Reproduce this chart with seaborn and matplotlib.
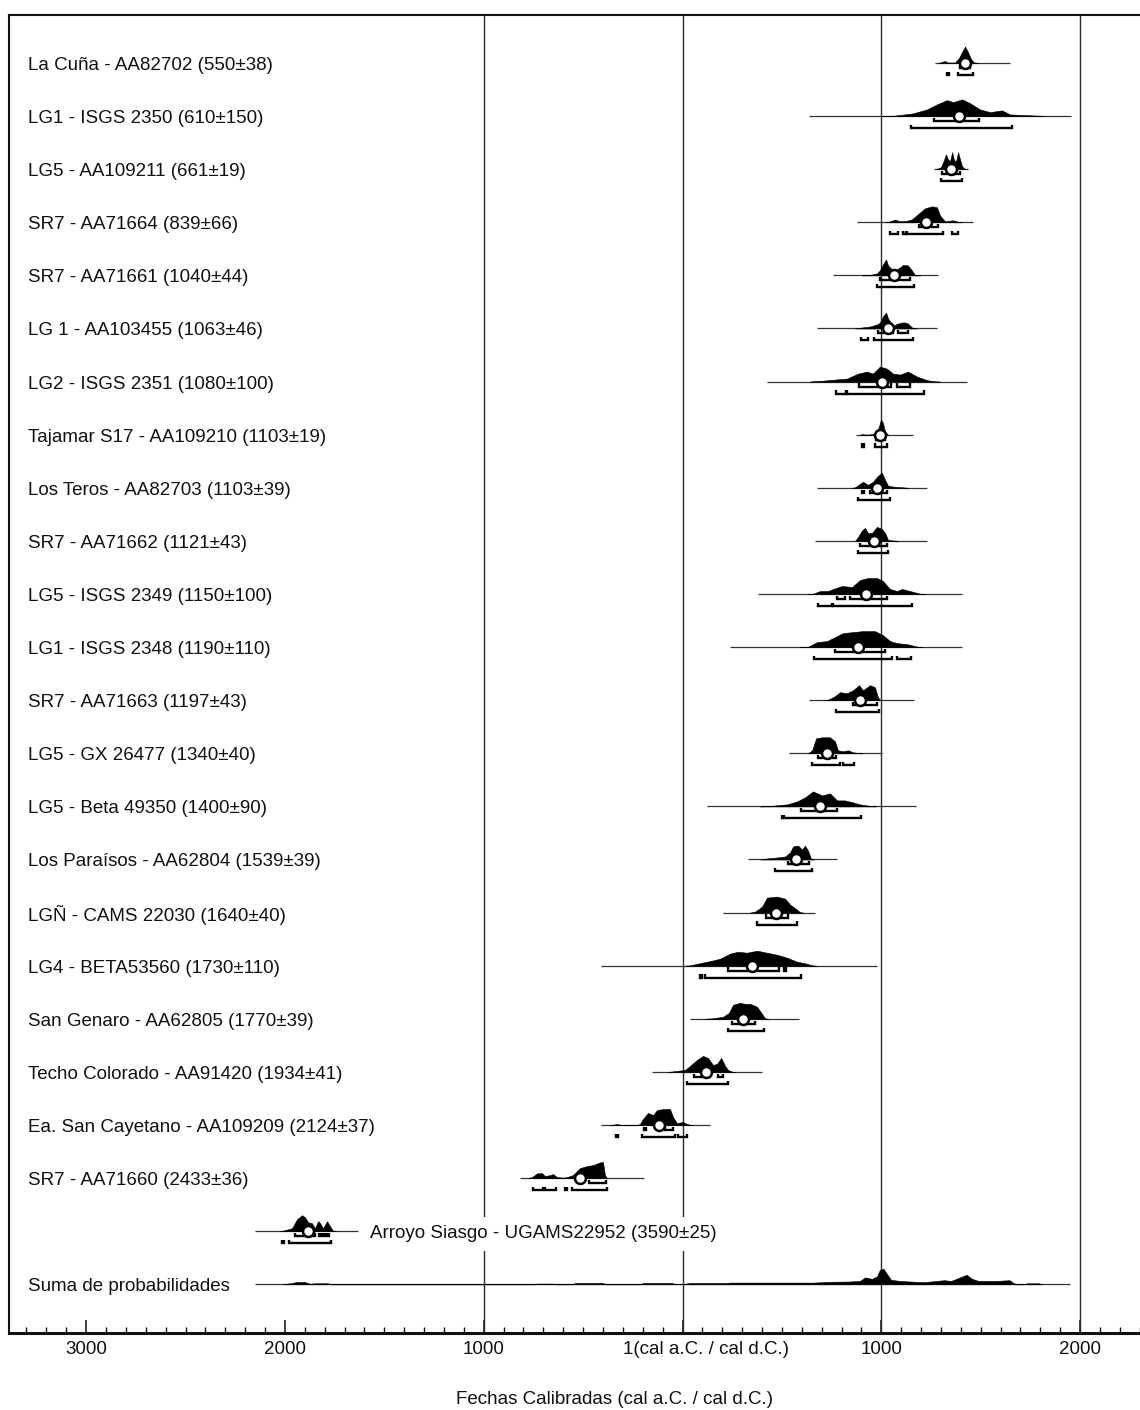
import numpy as np
import pandas as pd
import matplotlib
matplotlib.use("Agg")
import matplotlib.pyplot as plt
import matplotlib.transforms as mtransforms
import seaborn as sns

# ---------------- data (calendar years, negative = cal a.C.) ----------------
labels = [
    "La Cuña - AA82702 (550±38)",
    "LG1 - ISGS 2350 (610±150)",
    "LG5 - AA109211 (661±19)",
    "SR7 - AA71664 (839±66)",
    "SR7 - AA71661 (1040±44)",
    "LG 1 - AA103455 (1063±46)",
    "LG2 - ISGS 2351 (1080±100)",
    "Tajamar S17 - AA109210 (1103±19)",
    "Los Teros - AA82703 (1103±39)",
    "SR7 - AA71662 (1121±43)",
    "LG5 - ISGS 2349 (1150±100)",
    "LG1 - ISGS 2348 (1190±110)",
    "SR7 - AA71663 (1197±43)",
    "LG5 - GX 26477 (1340±40)",
    "LG5 - Beta 49350 (1400±90)",
    "Los Paraísos - AA62804 (1539±39)",
    "LGÑ - CAMS 22030 (1640±40)",
    "LG4 - BETA53560 (1730±110)",
    "San Genaro - AA62805 (1770±39)",
    "Techo Colorado - AA91420 (1934±41)",
    "Ea. San Cayetano - AA109209 (2124±37)",
    "SR7 - AA71660 (2433±36)",
    "Arroyo Siasgo - UGAMS22952 (3590±25)",
    "Suma de probabilidades",
]

line_from = [1270, 636, 1265, 877, 756, 675, 425, 873, 675, 665, 379, 239, 636,
             536, 123, 329, 204, -410, 38, -153, -410, -817, -2150, -2150]
line_to = [1647, 1954, 1436, 1461, 1285, 1280, 1431, 1159, 1230, 1230, 1406, 1406,
           1164, 1003, 1174, 777, 666, 978, 586, 400, 138, -194, -1632, 1949]

means = [1421, 1391, 1351, 1225, 1064, 1033, 1003, 993, 978, 963, 923, 883, 893,
         727, 692, 571, 470, 350, 304, 118, -118, -516, -1884]

dist_years = [
    [1285, 1305, 1320, 1335, 1371, 1391, 1406, 1421, 1436, 1451, 1466, 1486],
    [993, 1069, 1159, 1230, 1280, 1330, 1361, 1406, 1446, 1496, 1547, 1607, 1647, 1763, 1823],
    [1275, 1300, 1315, 1325, 1335, 1346, 1356, 1366, 1376, 1386, 1396, 1406, 1421],
    [1019, 1044, 1069, 1094, 1129, 1154, 1184, 1220, 1255, 1280, 1295, 1320, 1361, 1386, 1406],
    [903, 943, 978, 993, 1008, 1024, 1034, 1054, 1069, 1094, 1109, 1134, 1154, 1169, 1195],
    [868, 903, 943, 978, 993, 1008, 1024, 1034, 1059, 1084, 1104, 1119, 1134, 1154, 1180],
    [641, 682, 767, 827, 883, 928, 958, 993, 1028, 1059, 1094, 1134, 1180, 1230, 1260, 1295],
    [893, 908, 923, 958, 978, 988, 998, 1008, 1019, 1034],
    [853, 868, 893, 908, 933, 958, 983, 1003, 1019, 1034, 1069, 1109, 1134],
    [868, 883, 903, 918, 933, 953, 978, 1003, 1019, 1034, 1059, 1084],
    [631, 657, 692, 732, 767, 802, 853, 893, 933, 978, 1008, 1044, 1079, 1104, 1144, 1195, 1220],
    [591, 631, 677, 727, 767, 807, 858, 908, 968, 1008, 1044, 1079, 1129, 1180, 1205],
    [707, 732, 767, 792, 827, 858, 888, 908, 943, 968, 983, 993, 1003],
    [631, 652, 672, 702, 742, 767, 782, 807, 833, 858, 883, 903],
    [390, 430, 526, 576, 616, 656, 702, 742, 777, 817, 858, 893, 943, 973],
    [390, 425, 475, 516, 541, 556, 581, 601, 616, 631, 646, 662],
    [340, 365, 400, 425, 475, 516, 541, 576, 591, 606],
    [13, 38, 98, 148, 189, 239, 279, 324, 375, 425, 475, 526, 576, 626, 652, 672],
    [113, 148, 204, 234, 254, 289, 314, 340, 375, 400, 415, 430],
    [-73, -48, 13, 38, 73, 103, 128, 153, 174, 194, 214, 229, 249, 264],
    [-365, -350, -329, -314, -299, -229, -214, -199, -174, -148, -128, -98, -63, -48, -28, 3, 23, 38, 53],
    [-777, -757, -732, -707, -692, -667, -651, -631, -601, -581, -551, -516, -480, -450, -415, -400, -390, -380],
    [-2025, -2000, -1964, -1939, -1914, -1899, -1884, -1864, -1849, -1833, -1823, -1808, -1788, -1773, -1758, -1743],
    [-2009, -1974, -1939, -1899, -1874, -1849, -1783, -1763, -742, -732, -651, -636, -551, -541, -400, -385,
     -214, -199, -53, -33, 3, 38, 209, 244, 657, 742, 842, 893, 918, 953, 978, 993, 1011, 1031, 1049, 1092,
     1144, 1213, 1315, 1351, 1396, 1429, 1456, 1489, 1577, 1645, 1667, 1688, 1718, 1733, 1793, 1808],
]

# relative probability (peak of a single date ~16)
dist_prob = [
    [0, 1, 2, 0.5, 0.5, 5, 11, 16.5, 11, 4, 0.5, 0],
    [0, 0.5, 2.7, 6.7, 11.7, 16, 14, 16.7, 13, 6.7, 4, 5.7, 1.7, 0.7, 0],
    [0, 2, 9, 15, 10, 8, 17, 9, 8, 17, 10, 3, 0],
    [0, 1, 2.7, 1, 1.5, 3, 8, 14, 16, 15, 7, 1, 2, 0.5, 0],
    [0, 0.5, 2, 5, 11, 16, 10, 6, 5, 8, 10.5, 10, 5, 0.5, 0],
    [0, 1, 2, 4, 6, 12, 16, 10, 3, 5, 6, 6, 5, 1, 0],
    [0, 0.5, 2, 3, 8, 10, 8, 15, 13, 8, 7, 10, 5, 1.5, 0.3, 0],
    [0, 0.5, 0, 0.5, 3, 8, 15, 12, 3, 0],
    [0, 0.5, 4, 6, 3, 6, 12, 15, 8, 2, 1, 0.5, 0],
    [0, 4, 10.5, 13, 8, 8, 14, 12, 8, 1, 0.5, 0],
    [0, 0.3, 3, 3, 5.7, 8, 7, 14, 16, 16, 13, 5, 3, 5, 3, 0.3, 0],
    [0, 0.3, 5, 6, 10, 14, 15, 16, 16, 12, 6, 4, 3, 0.5, 0],
    [0, 0.5, 4, 8, 7, 10, 15, 10, 15, 13, 3, 0.5, 0],
    [0, 3, 15, 16, 16, 12, 3, 2, 3, 1, 0.3, 0],
    [0, 0.3, 2, 5, 9, 15, 11, 13, 6, 6, 4, 2, 0.5, 0],
    [0, 1, 2, 3, 7, 13, 14, 10, 14, 9, 1, 0],
    [0, 1, 6, 15, 16, 14, 8, 3, 0.3, 0],
    [0, 0.3, 3, 5, 7, 12, 14, 13, 15, 13, 11, 8, 4, 2, 0.3, 0],
    [0, 0.5, 2, 6, 14, 16, 15, 15, 12, 5, 0.5, 0],
    [0, 0.5, 2, 6, 12, 16, 14, 7, 8, 14, 6, 2, 0.3, 0],
    [0, 0.3, 1, 0.3, 0, 0, 1, 6, 12, 10, 15, 16, 16, 8, 2, 3, 1, 0.3, 0],
    [0, 1, 4.7, 5, 2, 3, 4, 1, 0.5, 1, 3, 10, 12, 13, 15.7, 16, 3, 0],
    [0, 1, 3, 12, 16, 14, 9, 8, 3, 10, 8, 3, 10, 5, 0.5, 0],
    [0, 1, 2.3, 2.3, 0.5, 1, 1, 0, 0, 0.7, 0.7, 0, 0, 1.3, 1.3, 0,
     0, 1.3, 1.3, 0, 0.3, 1.3, 1.3, 1.7, 1.7, 2.5, 2.8, 3.4, 6.9, 5.5, 7.9, 14.5, 15.5, 9.6, 4.5, 3.4,
     2.8, 2.1, 4.1, 3.4, 6.9, 9.6, 5.5, 3.4, 3.4, 4.1, 1, 0, 0, 1, 1, 0],
]

range68 = [
    [(1395, 1445)],
    [(1265, 1491)],
    [(1305, 1330), (1350, 1395)],
    [(1190, 1285)],
    [(993, 1144)],
    [(983, 1058), (1084, 1134)],
    [(888, 993), (1010, 1048), (1078, 1144)],
    [(975, 1020)],
    [(904, 912), (943, 1028)],
    [(893, 1028)],
    [(777, 817), (842, 1028)],
    [(767, 1018)],
    [(857, 978)],
    [(681, 772)],
    [(596, 777)],
    [(531, 636)],
    [(420, 531)],
    [(229, 485), (510, 520)],
    [(249, 364)],
    [(58, 138), (178, 204)],
    [(-194, -184), (-88, -48)],
    [(-470, -385)],
    [(-1949, -1848), (-1828, -1818), (-1808, -1798), (-1788, -1778)],
]

range95 = [
    [(1330, 1340), (1386, 1461)],
    [(1149, 1657)],
    [(1300, 1406)],
    [(1044, 1084), (1109, 1124), (1129, 1310), (1356, 1386)],
    [(978, 1164)],
    [(897, 932), (963, 1159)],
    [(772, 820), (828, 1215)],
    [(905, 912), (968, 1028)],
    [(883, 1043)],
    [(883, 1033)],
    [(682, 752), (757, 1154)],
    [(661, 1053), (1079, 1149)],
    [(772, 988)],
    [(651, 792), (807, 862)],
    [(500, 508), (512, 898)],
    [(465, 651)],
    [(375, 576)],
    [(90, 100), (113, 596)],
    [(229, 410)],
    [(23, 229)],
    [(-334, -324), (-204, -38), (-23, 23)],
    [(-751, -700), (-690, -636), (-590, -580), (-556, -380)],
    [(-2014, -2004), (-1979, -1768)],
]

major_ticks = [-3000, -2000, -1000, 0, 1000, 2000]
major_labels = ["3000", "2000", "1000", "", "1000", "2000"]
zero_label = "1(cal a.C. / cal d.C.)"
grid_years = [-1000, 0, 1000, 2000]
xlabel = "Fechas Calibradas (cal a.C. / cal d.C.)"
inline_label_rows = [22]

# ---------------- drawing ----------------
sns.set_theme(style="white")
plt.rcParams["font.family"] = ["Liberation Sans", "DejaVu Sans"]

W, H = 1140, 1410
fig = plt.figure(figsize=(W / 100, H / 100), dpi=100)
fig.patch.set_facecolor("white")

ax_l, ax_t, ax_b = 9, 15, 1333
ax = fig.add_axes([ax_l / W, 1 - ax_b / H, 1 - ax_l / W, (ax_b - ax_t) / H])
ax.set_facecolor("white")

PX_PER_YEAR = 0.1988
ORIGIN_PX = 682.5
ax.set_xlim((ax_l - ORIGIN_PX) / PX_PER_YEAR, (W - ORIGIN_PX) / PX_PER_YEAR)
ROW_PX = 53.1
FIRST_ROW_PX = 63
ax.set_ylim((ax_b - FIRST_ROW_PX) / ROW_PX, (ax_t - FIRST_ROW_PX) / ROW_PX)

def px(v):
    return v / ROW_PX

for g in grid_years:
    ax.axvline(g, color="#2a2a2a", lw=1.0, zorder=1)

n = len(labels)
label_x = (28 - ORIGIN_PX) / PX_PER_YEAR
for i in range(n):
    ax.plot([line_from[i], line_to[i]], [i, i], color="#333333", lw=0.9,
            zorder=2, solid_capstyle="butt")
    xs = np.array(dist_years[i], dtype=float)
    hs = np.array(dist_prob[i], dtype=float)
    ax.fill_between(xs, i, i - px(hs), color="black", lw=0.4, edgecolor="black", zorder=3)

cap = px(3.2)
for i, (r68, r95) in enumerate(zip(range68, range95)):
    for rows, off in ((r68, px(5)), (r95, px(12))):
        for a, b in rows:
            yb = i + off
            ax.plot([a, a, b, b], [yb - cap, yb, yb, yb - cap], color="black",
                    lw=1.7, zorder=4, solid_capstyle="butt", solid_joinstyle="miter")

mdf = pd.DataFrame({"year": means, "row": list(range(len(means)))})
sns.scatterplot(data=mdf, x="year", y="row", ax=ax, s=62, color="white",
                edgecolor="black", linewidth=1.8, zorder=5, legend=False)

for i, lab in enumerate(labels):
    if i in inline_label_rows:
        x = line_to[i] + 12 / PX_PER_YEAR
    else:
        x = label_x
    ax.text(x, i + px(2.5), lab, fontsize=13.5, color="#111111", ha="left", va="center",
            zorder=6, bbox=dict(facecolor="white", edgecolor="none",
                                boxstyle="square,pad=0.45"))

# axes / ticks
ax.set_xticks(major_ticks)
ax.set_xticklabels(major_labels)
ax.set_xticks(np.arange(-3300, 2301, 100), minor=True)
ax.set_yticks([])
ax.tick_params(axis="x", which="both", bottom=True, top=False, direction="in",
               color="#111111")
ax.tick_params(axis="x", which="major", length=9.4, width=1.1, pad=5.5,
               labelsize=13.5, labelcolor="#111111")
ax.tick_params(axis="x", which="minor", length=4.3, width=1.0)
ax.set_xlabel("")
ax.set_ylabel("")
ax.grid(False)

for side in ("left", "top", "bottom"):
    ax.spines[side].set_visible(True)
    ax.spines[side].set_color("#111111")
ax.spines["right"].set_visible(False)
ax.spines["left"].set_linewidth(1.5)
ax.spines["top"].set_linewidth(1.5)
ax.spines["bottom"].set_linewidth(2.2)

trans = mtransforms.blended_transform_factory(ax.transData, ax.transAxes)
trans = mtransforms.offset_copy(trans, fig=fig, x=17, y=-5.5, units="points")
ax.text(0, 0, zero_label, transform=trans, ha="center", va="top", fontsize=13.5,
        color="#111111")

fig.text(615 / W, 1 - 1400 / H, xlabel, ha="center", va="center", fontsize=13.5,
         color="#111111")

fig.savefig("out.png", dpi=100)
